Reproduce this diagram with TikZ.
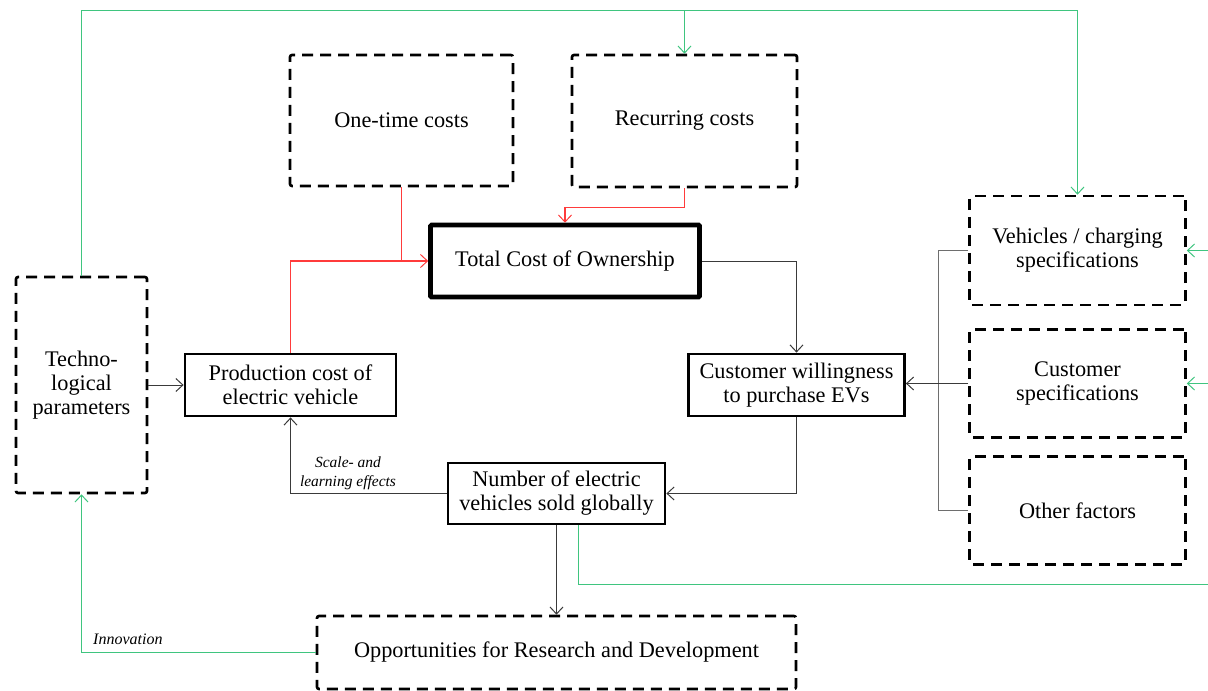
\documentclass[tikz,border=0pt]{standalone}
\usepackage{fontspec}
\setmainfont{Liberation Serif}
\usetikzlibrary{arrows.meta}
\definecolor{linkgray}{HTML}{3A3A3A}
\definecolor{buscolor}{HTML}{6E6E6E}
\definecolor{costred}{HTML}{FF3B3B}
\definecolor{loopgreen}{HTML}{3FC57F}
\begin{document}
\begin{tikzpicture}[x=1pt,y=-1pt,
  txt/.style={font=\fontsize{22.3}{24}\selectfont, align=center, inner sep=0pt},
  solidbox/.style={txt, draw=black, line width=2.8pt},
  mainbox/.style={txt, draw=black, line width=4.6pt, rounded corners=1pt},
  dashbox/.style={txt, draw=black, line width=2.6pt, dash pattern=on 11pt off 7pt, rounded corners=2pt},
  tip/.style={-{Straight Barb[length=7pt,width=13pt,line width=1pt]}},
  link/.style={draw=linkgray, line width=1pt, tip},
  redlink/.style={draw=costred, line width=1.5pt, tip},
  greenlink/.style={draw=loopgreen, line width=1.5pt, tip},
  note/.style={font=\itshape\fontsize{15.5}{19}\selectfont, align=center, inner sep=0pt}
]
\useasboundingbox (0,0) rectangle (1208,691);

% cost inputs
\node[dashbox, minimum width=223pt, minimum height=131pt] (onetime) at (401.5,120.5) {One-time costs};
\node[dashbox, minimum width=225pt, minimum height=132pt] (recurring) at (684.5,121) {Recurring costs};
\node[mainbox, minimum width=269pt, minimum height=72pt] (tco) at (565,261) {Total Cost of Ownership};

% central loop
\node[solidbox, minimum width=211pt, minimum height=62pt] (production) at (290.5,385) {Production cost of\\electric vehicle};
\node[solidbox, minimum width=216pt, minimum height=62pt] (willing) at (796.5,385) {Customer willingness\\to purchase EVs};
\node[solidbox, minimum width=217pt, minimum height=61pt] (sold) at (556.5,493.5) {Number of electric\\vehicles sold globally};

% surrounding factors
\node[dashbox, minimum width=131pt, minimum height=216pt] (techno) at (81.5,385) {Techno-\\logical\\parameters};
\node[dashbox, minimum width=216pt, minimum height=109pt] (vehicles) at (1077.5,250.5) {Vehicles / charging\\specifications};
\node[dashbox, minimum width=216pt, minimum height=108pt] (custspec) at (1077.5,383.5) {Customer\\specifications};
\node[dashbox, minimum width=216pt, minimum height=108pt] (other) at (1077.5,510.5) {Other factors};
\node[dashbox, minimum width=479pt, minimum height=73pt] (research) at (556.5,652.5) {Opportunities for Research and Development};

% routing helpers
\coordinate (topline) at (0,10.5);
\coordinate (recbend) at (0,207.5);
\coordinate (bus) at (938.5,0);
\coordinate (rightedge) at (1208,0);
\coordinate (greenexit) at (1208,584.5);

% costs into TCO
\draw[draw=costred, line width=1.5pt] (production.north) |- (onetime.south |- tco.west);
\draw[redlink] (onetime.south) -- (onetime.south |- tco.west) -- (tco.west);
\draw[redlink] (recurring.south) |- (recbend -| tco.north) -- (tco.north);

% main cycle
\draw[link] (tco.east) -| (willing.north);
\draw[link] (willing.south) |- (sold.east);
\draw[link] (sold.west) -| (production.south);
\node[note] (scale) at (348,473.5) {Scale- and\\learning effects};
\draw[link] (techno.east) -- (production.west);
\draw[link] (sold.south) -- (sold.south |- research.north);

% factors feeding customer willingness
\draw[draw=buscolor, line width=1pt] (vehicles.west) -- (vehicles.west -| bus) |- (other.west);
\draw[link] (custspec.west) -- (custspec.west -| willing.east);

% technology feedback loops
\draw[greenlink] (techno.north) |- (topline -| vehicles.north) -- (vehicles.north);
\draw[greenlink] (recurring.north |- topline) -- (recurring.north);
\draw[greenlink] (research.west) -| (techno.south);
\node[note, font=\itshape\fontsize{16}{19}\selectfont, anchor=west] (innov) at (93,639) {Innovation};
\draw[draw=loopgreen, line width=1.5pt] ([xshift=22pt]sold.south) |- (greenexit);
\draw[greenlink] (vehicles.east -| rightedge) -- (vehicles.east);
\draw[greenlink] (custspec.east -| rightedge) -- (custspec.east);
\end{tikzpicture}
\end{document}
